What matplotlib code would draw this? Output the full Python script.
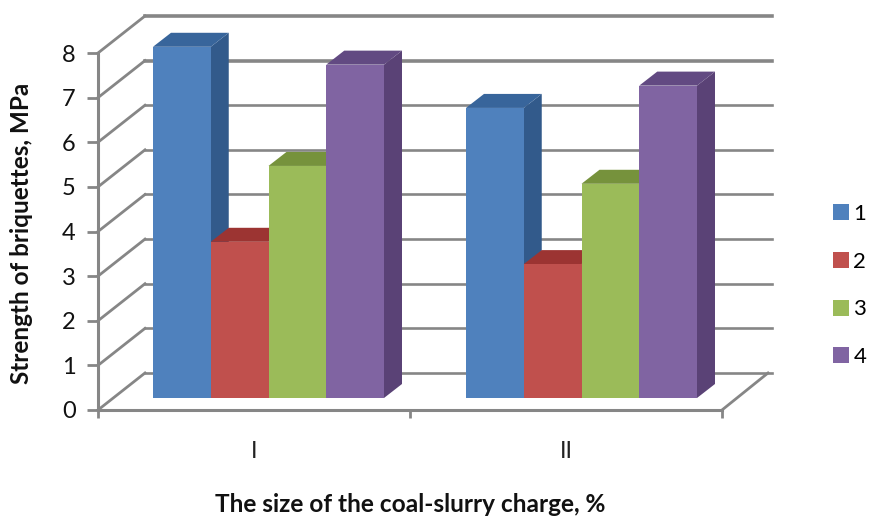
#!/usr/bin/env python3
# -*- coding: utf-8 -*-

import numpy as np
import matplotlib.pyplot as plt
from matplotlib.patches import Polygon

plt.rcParams['font.family'] = ['Lato', 'DejaVu Sans']

groups = ['I', 'II']
series = ['1', '2', '3', '4']
values_1 = [7.87, 6.5]
values_2 = [3.5, 3.0]
values_3 = [5.2, 4.8]
values_4 = [7.47, 7.0]
y_ticks = [0, 1, 2, 3, 4, 5, 6, 7, 8]

front_colors = ['#4f81bd', '#c0504d', '#9bbb59', '#8064a2']
side_colors = ['#325a8b', '#8f3735', '#73903c', '#5a4276']
top_colors = ['#38659b', '#9c3432', '#76923c', '#624a82']
grid_color = '#868686'

# picture scale of the front plane
px_x = 312.0
px_y = 44.6

fig = plt.figure(figsize=(8.69, 5.16), dpi=100)
ax = fig.add_axes([98 / 869, (516 - 410) / 516, 624 / 869, 357 / 516])
ax.set_xlim(0, 2)
ax.set_ylim(0, 8)

# back wall and left wall of the fake 3d box
wall_dx = 47 / px_x
wall_dy = 37 / px_y
wall_end = 2 + 50 / px_x
for y in y_ticks:
    lw = 2.6 if y in (8, 7) else 1.9
    ax.plot([wall_dx, wall_end], [y + wall_dy, y + wall_dy], color=grid_color,
            lw=lw, clip_on=False, zorder=1)
    ax.plot([0, wall_dx], [y, y + wall_dy], color=grid_color, lw=2.0,
            clip_on=False, zorder=1)
ax.plot([2, 2 + 46 / px_x], [0, wall_dy], color=grid_color, lw=2.0,
        clip_on=False, zorder=1)

# bars, drawn left to right so that each one hides the side of the last
bar_w = 57.75 / px_x
base = 12 / px_y
depth_x = 18 / px_x
depth_y = 14 / px_y
group_left = [55 / px_x, 368 / px_x]
all_values = [values_1, values_2, values_3, values_4]

z = 3
for g in range(len(groups)):
    for s in range(len(series)):
        x0 = group_left[g] + s * bar_w
        x1 = x0 + bar_w
        top = base + all_values[s][g]
        side = Polygon([(x1, base), (x1 + depth_x, base + depth_y),
                        (x1 + depth_x, top + depth_y), (x1, top)],
                       fc=side_colors[s], ec='none', clip_on=False, zorder=z)
        roof = Polygon([(x0, top), (x0 + depth_x, top + depth_y),
                        (x1 + depth_x, top + depth_y), (x1, top)],
                       fc=top_colors[s], ec='none', clip_on=False, zorder=z)
        ax.add_patch(side)
        ax.add_patch(roof)
        ax.bar(x0, all_values[s][g], bar_w, bottom=base, align='edge',
               color=front_colors[s], clip_on=False, zorder=z + 0.5,
               label=series[s] if g == 0 else None)
        z += 1

for name in ['top', 'right']:
    ax.spines[name].set_visible(False)
for name in ['left', 'bottom']:
    ax.spines[name].set_color(grid_color)
    ax.spines[name].set_linewidth(2.2)

ax.set_yticks(y_ticks)
ax.set_xticks([0, 1, 2])
ax.set_xticklabels([])
ax.set_xticks([0.5, 1.5], minor=True)
ax.set_xticklabels(groups, minor=True, fontsize=17, color='#222222')
ax.tick_params(axis='x', which='minor', length=0, pad=22)
ax.tick_params(axis='x', which='major', length=6, width=2, color=grid_color)
ax.tick_params(axis='y', length=8, width=2, color=grid_color, pad=8,
               labelsize=17, labelcolor='#111111')

fig.text(22 / 869, 1 - 233 / 516, 'Strength of briquettes, MPa', rotation=90,
         ha='center', va='center', fontsize=17.5, fontweight='bold', color='#111111')
fig.text(410 / 869, 1 - 504 / 516, 'The size of the coal-slurry charge, %',
         ha='center', va='center', fontsize=17.6, fontweight='bold', color='#111111')

ax.legend(loc='center left', bbox_to_anchor=(833 / 869, 1 - 285.5 / 516),
          bbox_transform=fig.transFigure, frameon=False, fontsize=16,
          handlelength=0.72, handleheight=0.72, handletextpad=0.2,
          labelspacing=1.25, borderpad=0, borderaxespad=0)

fig.savefig('out.png', dpi=100)
